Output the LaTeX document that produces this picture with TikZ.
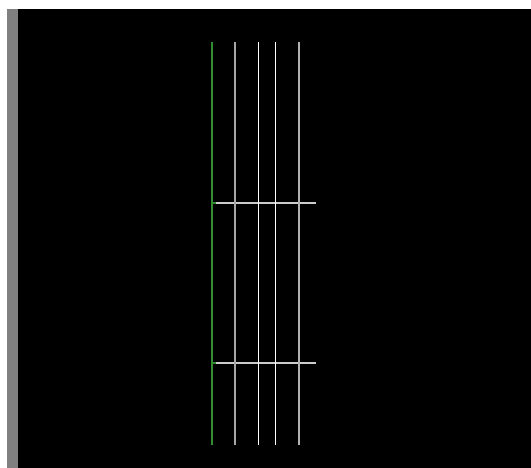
\documentclass[tikz,border=0pt]{standalone}
\begin{document}
\begin{tikzpicture}[x=1pt,y=1pt,
  vline/.style={line width=1.3pt},
  hline/.style={line width=1.5pt, color=black!20}]
\useasboundingbox (0,0) rectangle (531,468);
\fill[white] (0,0) rectangle (531,468);
\fill[black!50] (7,0) rectangle (18,459);
\fill[black] (18,0) rectangle (531,459);
% vertical lines
\coordinate (g1) at (212,426); \coordinate (g2) at (212,23);
\coordinate (a1) at (235,426); \coordinate (a2) at (235,23);
\coordinate (b1) at (258.5,426); \coordinate (b2) at (258.5,23);
\coordinate (c1) at (275.5,426); \coordinate (c2) at (275.5,23);
\coordinate (d1) at (299,426); \coordinate (d2) at (299,23);
% horizontal lines
\coordinate (h1) at (212,265); \coordinate (h2) at (316,265);
\coordinate (k1) at (212,105); \coordinate (k2) at (316,105);
\draw[hline] (h1) -- (h2);
\draw[hline] (k1) -- (k2);
\draw[vline, color=black!35!white] (a1) -- (a2);
\draw[vline, color=white] (b1) -- (b2);
\draw[vline, color=white] (c1) -- (c2);
\draw[vline, color=black!30!white] (d1) -- (d2);
\draw[vline, color={rgb,255:red,50;green,140;blue,50}] (g1) -- (g2);
\draw[line width=1.5pt, color={rgb,255:red,50;green,140;blue,50}] (h1) -- ++(4,0);
\draw[line width=1.5pt, color={rgb,255:red,50;green,140;blue,50}] (k1) -- ++(4,0);
\end{tikzpicture}
\end{document}
